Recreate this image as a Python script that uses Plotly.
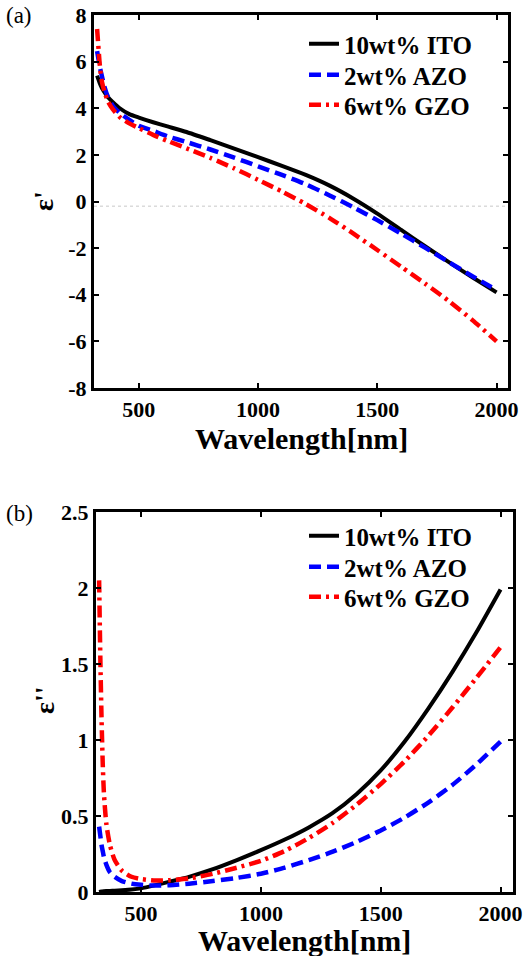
import plotly.graph_objects as go

# ---------------- data ----------------
wavelength = [325, 330, 335, 340, 345, 355, 370, 390, 420, 460, 500, 560, 620, 700,
              800, 900, 1000, 1100, 1200, 1300, 1400, 1500, 1600, 1700, 1800, 1900, 2000]

# (a) real part eps'
ito_real = [5.4, 5.25, 5.1, 4.98, 4.87, 4.7, 4.48, 4.27, 4.0, 3.75, 3.6, 3.4, 3.22, 2.98,
            2.63, 2.27, 1.9, 1.53, 1.14, 0.68, 0.12, -0.52, -1.22, -1.92, -2.6, -3.26, -3.9]
azo_real = [6.45, 6.15, 5.85, 5.6, 5.38, 4.95, 4.5, 4.12, 3.8, 3.5, 3.25, 3.03, 2.8, 2.55,
            2.23, 1.88, 1.51, 1.14, 0.74, 0.26, -0.25, -0.8, -1.38, -1.98, -2.6, -3.21, -3.8]
gzo_real = [7.4, 6.7, 6.0, 5.5, 5.15, 4.75, 4.3, 3.97, 3.62, 3.35, 3.15, 2.86, 2.6, 2.28,
            1.87, 1.42, 0.93, 0.43, -0.11, -0.71, -1.38, -2.08, -2.8, -3.52, -4.27, -5.1, -6.0]

# (b) imaginary part eps''
ito_imag = [0.0, 0.002, 0.003, 0.004, 0.005, 0.006, 0.007, 0.008, 0.011, 0.016, 0.024, 0.045,
            0.068, 0.1, 0.15, 0.21, 0.275, 0.345, 0.425, 0.52, 0.645, 0.8, 0.99, 1.21, 1.45, 1.71, 1.99]
azo_imag = [0.43, 0.37, 0.31, 0.27, 0.23, 0.18, 0.13, 0.1, 0.072, 0.055, 0.047, 0.042, 0.045,
            0.055, 0.072, 0.093, 0.12, 0.16, 0.21, 0.265, 0.33, 0.405, 0.49, 0.59, 0.705, 0.84, 0.99]
gzo_imag = [2.05, 1.55, 1.15, 0.85, 0.65, 0.45, 0.31, 0.21, 0.14, 0.1, 0.085, 0.075, 0.078,
            0.09, 0.12, 0.16, 0.205, 0.27, 0.355, 0.455, 0.575, 0.71, 0.86, 1.03, 1.215, 1.41, 1.61]

series_names = ["10wt% ITO", "2wt% AZO", "6wt% GZO"]
x_ticks = [500, 1000, 1500, 2000]
x_ticklabels = ["500", "1000", "1500", "2000"]
y_ticks_a = [-8, -6, -4, -2, 0, 2, 4, 6, 8]
y_ticklabels_a = ["-8", "-6", "-4", "-2", "0", "2", "4", "6", "8"]
y_ticks_b = [0, 0.5, 1, 1.5, 2, 2.5]
y_ticklabels_b = ["0", "0.5", "1", "1.5", "2", "2.5"]

# ---------------- styling ----------------
W, H = 524, 956
FONT = "Liberation Serif"
colors = ["black", "blue", "red"]
dashes = ["solid", "12px,6px", "12px,5px,3px,5px"]
widths = [4, 4.5, 4.5]
legend_rows_a = [44, 75, 105]     # pixel centres of legend rows, panel (a)
legend_rows_b = [536, 567, 597]   # panel (b)
LEG_TOP_OFFSET = 23


def fx(p):
    return p / W


def fy(p):
    return 1 - p / H


def bold(labels):
    return [f"<b>{t}</b>" for t in labels]


fig = go.Figure()

legend_font = dict(family=FONT, size=25, color="black", weight="bold")
legend_layout = {}

for i, (name, vals, c, d, w) in enumerate(zip(series_names, [ito_real, azo_real, gzo_real],
                                              colors, dashes, widths)):
    lg = "legend" if i == 0 else f"legend{i + 1}"
    fig.add_trace(go.Scatter(x=wavelength, y=vals, mode="lines", name=name,
                             line=dict(color=c, dash=d, width=w, shape="spline", smoothing=0.6),
                             xaxis="x", yaxis="y", legend=lg))
    legend_layout[lg] = dict(x=fx(304), y=fy(legend_rows_a[i] - LEG_TOP_OFFSET),
                             xanchor="left", yanchor="top", bgcolor="rgba(0,0,0,0)",
                             itemwidth=30, font=legend_font)

for i, (name, vals, c, d, w) in enumerate(zip(series_names, [ito_imag, azo_imag, gzo_imag],
                                              colors, dashes, widths)):
    lg = f"legend{i + 4}"
    fig.add_trace(go.Scatter(x=wavelength, y=vals, mode="lines", name=name,
                             line=dict(color=c, dash=d, width=w, shape="spline", smoothing=0.6),
                             xaxis="x2", yaxis="y2", legend=lg))
    legend_layout[lg] = dict(x=fx(304), y=fy(legend_rows_b[i] - LEG_TOP_OFFSET),
                             xanchor="left", yanchor="top", bgcolor="rgba(0,0,0,0)",
                             itemwidth=30, font=legend_font)

tickfont = dict(family=FONT, size=22, color="black", weight="bold")
axis_common = dict(showline=True, linecolor="black", linewidth=3, mirror="ticks",
                   ticks="inside", ticklen=5, tickwidth=2, tickcolor="black",
                   showgrid=False, zeroline=False, tickfont=tickfont, automargin=False,
                   ticklabeloverflow="allow")

fig.update_layout(
    width=W, height=H,
    margin=dict(l=0, r=0, t=0, b=0),
    paper_bgcolor="white", plot_bgcolor="white",
    xaxis=dict(domain=[fx(94), fx(508)], range=[312, 2048], anchor="y",
               tickvals=x_ticks, ticktext=bold(x_ticklabels), **axis_common),
    yaxis=dict(domain=[fy(388), fy(15)], range=[-8, 8], anchor="x",
               tickvals=y_ticks_a, ticktext=bold(y_ticklabels_a), **axis_common),
    xaxis2=dict(domain=[fx(96), fx(513)], range=[312, 2052], anchor="y2",
                tickvals=x_ticks, ticktext=bold(x_ticklabels), **axis_common),
    yaxis2=dict(domain=[fy(892), fy(512)], range=[0, 2.5], anchor="x2",
                tickvals=y_ticks_b, ticktext=bold(y_ticklabels_b), **axis_common),
    showlegend=True,
    **legend_layout,
)

# faint dotted reference line near zero in panel (a)
fig.add_shape(type="line", xref="x domain", x0=0, x1=1, yref="y", y0=-0.2, y1=-0.2,
              line=dict(color="#c8c8c8", width=1, dash="dot"), layer="below")

title_font = dict(family=FONT, size=30, color="black", weight="bold")
eps_font = dict(family=FONT, size=28, color="black", weight="bold")
ann = [
    dict(text="Wavelength[nm]", x=fx(301), y=fy(438), font=title_font),
    dict(text="Wavelength[nm]", x=fx(304), y=fy(940), font=title_font),
    dict(text="ε'", x=fx(44), y=fy(201), textangle=-90, font=eps_font),
    dict(text="ε''", x=fx(44), y=fy(700), textangle=-90, font=eps_font),
    dict(text="(a)", x=fx(19), y=fy(15), font=dict(family=FONT, size=23, color="black")),
    dict(text="(b)", x=fx(19), y=fy(513), font=dict(family=FONT, size=23, color="black")),
]
for a in ann:
    fig.add_annotation(xref="paper", yref="paper", showarrow=False,
                       xanchor="center", yanchor="middle", **a)

fig.write_html("out.html", config={"displayModeBar": False},
               post_script="document.body.style.margin='0';")
